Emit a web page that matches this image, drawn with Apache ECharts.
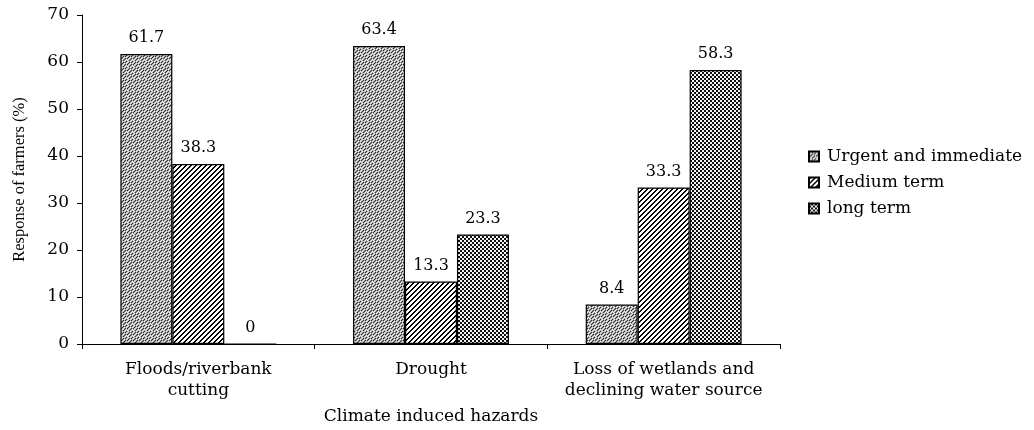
<!DOCTYPE html>
<html>
<head>
<meta charset="utf-8">
<script src="https://cdn.jsdelivr.net/npm/echarts@6/dist/echarts.min.js"></script>
<style>
  html, body { margin: 0; padding: 0; background: #fff; }
  #chart { width: 1034px; height: 430px; }
</style>
</head>
<body>
<div id="chart"></div>
<script>
// data
var hazards = ["Floods/riverbank\ncutting", "Drought", "Loss of wetlands and\ndeclining water source"];
var urgent = [61.7, 63.4, 8.4];
var medium = [38.3, 13.3, 33.3];
var longTerm = [0, 23.3, 58.3];
var yTicks = [0, 10, 20, 30, 40, 50, 60, 70];

// small canvas tiles used as fill patterns
function makeTile(size, painter) {
  var c = document.createElement("canvas");
  c.width = size;
  c.height = size;
  var ctx = c.getContext("2d");
  for (var x = 0; x < size; x++) {
    for (var y = 0; y < size; y++) {
      ctx.fillStyle = painter(x, y);
      ctx.fillRect(x, y, 1, 1);
    }
  }
  return c;
}

// grey speckle, fixed 6x6 layout
var speck = [
  "gwgbgw",
  "bgwgwg",
  "gwgbgb",
  "wgbgwg",
  "gbgwgb",
  "wgwgbg"
];
var speckCol = { g: "#a8a8a8", b: "#333", w: "#f0f0f0" };
var dots = makeTile(6, function (x, y) {
  return speckCol[speck[y].charAt(x)];
});
// diagonal "/" hatch
var hatch = makeTile(5, function (x, y) {
  return (x + y) % 5 < 2 ? "#000" : "#fff";
});
// checker
var checker = makeTile(4, function (x, y) {
  return (Math.floor(x / 2) + Math.floor(y / 2)) % 2 ? "#111" : "#f4f4f4";
});

var serif = "DejaVu Serif";
var txt = { fontFamily: serif, fontSize: 17, color: "#000" };

function barSeries(name, data, tile) {
  return {
    name: name,
    type: "bar",
    data: data,
    barGap: "0%",
    barCategoryGap: "33%",
    itemStyle: {
      color: { image: tile, repeat: "repeat" },
      borderColor: "#000",
      borderWidth: 1.2
    },
    label: {
      show: true,
      position: "top",
      distance: 8,
      fontFamily: serif,
      fontSize: 16,
      color: "#000"
    }
  };
}

var chart = echarts.init(document.getElementById("chart"));
chart.setOption({
  animation: false,
  backgroundColor: "#fff",
  grid: { left: 82, right: 254, top: 15, bottom: 86 },
  legend: {
    orient: "vertical",
    left: 803,
    top: 143,
    itemWidth: 10,
    itemHeight: 10,
    itemGap: 9,
    icon: "rect",
    textStyle: { fontFamily: serif, fontSize: 17, color: "#000", padding: [0, 0, 0, 3] },
    data: ["Urgent and immediate", "Medium term", "long term"]
  },
  xAxis: {
    type: "category",
    data: hazards,
    name: "Climate induced hazards",
    nameLocation: "middle",
    nameGap: 64,
    nameTextStyle: txt,
    axisLine: { lineStyle: { color: "#000", width: 1 } },
    axisTick: { show: true, length: 5, lineStyle: { color: "#000" } },
    axisLabel: {
      margin: 15,
      fontFamily: serif,
      fontSize: 17,
      lineHeight: 21,
      color: "#000",
      interval: 0
    }
  },
  yAxis: {
    type: "value",
    min: yTicks[0],
    max: yTicks[yTicks.length - 1],
    interval: 10,
    name: "Response of farmers (%)",
    nameLocation: "middle",
    nameGap: 54,
    nameRotate: 90,
    nameTextStyle: { fontFamily: "Liberation Serif", fontSize: 16.5, color: "#000" },
    splitLine: { show: false },
    axisLine: { show: true, lineStyle: { color: "#000", width: 1 } },
    axisTick: { show: true, length: 5, lineStyle: { color: "#000" } },
    axisLabel: { margin: 13, fontFamily: serif, fontSize: 17, color: "#000" }
  },
  series: [
    barSeries("Urgent and immediate", urgent, dots),
    barSeries("Medium term", medium, hatch),
    barSeries("long term", longTerm, checker)
  ]
});
</script>
</body>
</html>
